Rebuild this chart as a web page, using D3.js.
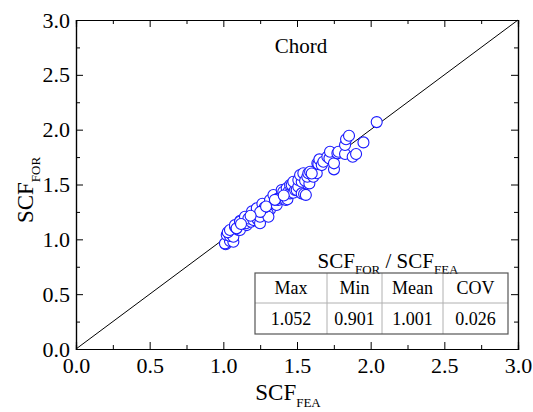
<!DOCTYPE html>
<html>
<head>
<meta charset="utf-8">
<script src="https://cdn.jsdelivr.net/npm/d3@7"></script>
<style>
  body { margin: 0; background: #fff; }
  svg { display: block; }
  svg text { font-family: "Liberation Serif", "Times New Roman", serif; }
</style>
</head>
<body>
<svg id="chart" width="533" height="412"></svg>
<script>
// SCF from the FEA model (x) against SCF from the formula (y), chord side
const scfFea = [
  1.016, 1.011, 1.045, 1.068, 1.023, 1.045, 1.045, 1.068, 1.030, 1.045,
  1.079, 1.102, 1.079, 1.113, 1.090, 1.115, 1.113, 1.147, 1.159, 1.147,
  1.154, 1.188, 1.170, 1.204, 1.215, 1.233, 1.249, 1.204, 1.195, 1.227,
  1.249, 1.261, 1.265, 1.295, 1.317, 1.301, 1.306, 1.280, 1.340, 1.317,
  1.362, 1.340, 1.373, 1.373, 1.396, 1.424, 1.435, 1.396, 1.407, 1.430,
  1.441, 1.453, 1.453, 1.464, 1.475, 1.487, 1.475, 1.498, 1.509, 1.532,
  1.548, 1.509, 1.532, 1.521, 1.543, 1.555, 1.584, 1.570, 1.577, 1.589,
  1.611, 1.634, 1.638, 1.645, 1.652, 1.668, 1.679, 1.706, 1.720, 1.724,
  1.751, 1.751, 1.774, 1.781, 1.826, 1.826, 1.833, 1.853, 1.878, 1.901,
  1.951, 2.041, 1.250, 1.185, 1.120, 1.350, 1.600, 1.560, 1.290, 1.410
];
const scfFor = [
  0.955, 0.963, 0.985, 0.978, 1.039, 1.030, 1.055, 1.024, 1.065, 1.085,
  1.115, 1.085, 1.130, 1.085, 1.100, 1.170, 1.160, 1.160, 1.130, 1.206,
  1.146, 1.160, 1.190, 1.176, 1.237, 1.182, 1.146, 1.237, 1.255, 1.283,
  1.206, 1.252, 1.325, 1.297, 1.273, 1.237, 1.206, 1.290, 1.328, 1.358,
  1.313, 1.404, 1.358, 1.374, 1.404, 1.358, 1.365, 1.449, 1.434, 1.465,
  1.434, 1.419, 1.495, 1.495, 1.425, 1.449, 1.525, 1.449, 1.480, 1.419,
  1.413, 1.541, 1.525, 1.586, 1.602, 1.534, 1.510, 1.571, 1.602, 1.616,
  1.571, 1.602, 1.693, 1.686, 1.729, 1.677, 1.707, 1.753, 1.738, 1.799,
  1.638, 1.693, 1.784, 1.799, 1.778, 1.860, 1.912, 1.945, 1.753, 1.778,
  1.884, 2.069, 1.250, 1.215, 1.140, 1.360, 1.600, 1.405, 1.300, 1.400
];

const majorTicks = [0, 0.5, 1.0, 1.5, 2.0, 2.5, 3.0];
const minorTicks = [0.25, 0.75, 1.25, 1.75, 2.25, 2.75];
const statNames = ["Max", "Min", "Mean", "COV"];
const statValues = ["1.052", "0.901", "1.001", "0.026"];
const panelTitle = "Chord";

const serif = "Liberation Serif";
const svg = d3.select("#chart").attr("font-family", serif);
const plotLeft = 76, plotRight = 518, plotTop = 20, plotBottom = 349;

const x = d3.scaleLinear().domain([0, 3]).range([plotLeft, plotRight]);
const y = d3.scaleLinear().domain([0, 3]).range([plotBottom, plotTop]);

const fmt = d3.format(".1f");

// 1:1 reference line
svg.append("line")
  .attr("x1", x(0)).attr("y1", y(0))
  .attr("x2", x(3)).attr("y2", y(3))
  .attr("stroke", "#000").attr("stroke-width", 1);

// Data points
svg.append("g").selectAll("circle")
  .data(scfFea.map((v, i) => [v, scfFor[i]]))
  .join("circle")
  .attr("cx", d => x(d[0]))
  .attr("cy", d => y(d[1]))
  .attr("r", 5.5)
  .attr("fill", "#fff")
  .attr("stroke", "#1a1aff")
  .attr("stroke-width", 1.1);

// Axes: ticks point inward on all four sides
function styleAxis(g) {
  g.attr("font-family", serif).attr("font-size", 22);
  g.selectAll("path.domain").attr("stroke", "#000").attr("stroke-width", 1.2);
  g.selectAll(".tick line").attr("stroke", "#000").attr("stroke-width", 1);
  g.selectAll(".tick text").attr("fill", "#000");
}

svg.append("g").attr("transform", `translate(0,${plotBottom})`)
  .call(d3.axisBottom(x).tickValues(majorTicks).tickFormat(fmt).tickSize(-7).tickPadding(8))
  .call(styleAxis);
svg.append("g").attr("transform", `translate(0,${plotBottom})`)
  .call(d3.axisBottom(x).tickValues(minorTicks).tickFormat("").tickSize(-4))
  .call(styleAxis);
svg.append("g").attr("transform", `translate(${plotLeft},0)`)
  .call(d3.axisLeft(y).tickValues(majorTicks).tickFormat(fmt).tickSize(-7).tickPadding(6))
  .call(styleAxis);
svg.append("g").attr("transform", `translate(${plotLeft},0)`)
  .call(d3.axisLeft(y).tickValues(minorTicks).tickFormat("").tickSize(-4))
  .call(styleAxis);
svg.append("g").attr("transform", `translate(0,${plotTop})`)
  .call(d3.axisTop(x).tickValues(majorTicks).tickFormat("").tickSize(-7))
  .call(styleAxis);
svg.append("g").attr("transform", `translate(0,${plotTop})`)
  .call(d3.axisTop(x).tickValues(minorTicks).tickFormat("").tickSize(-4))
  .call(styleAxis);
svg.append("g").attr("transform", `translate(${plotRight},0)`)
  .call(d3.axisRight(y).tickValues(majorTicks).tickFormat("").tickSize(-7))
  .call(styleAxis);
svg.append("g").attr("transform", `translate(${plotRight},0)`)
  .call(d3.axisRight(y).tickValues(minorTicks).tickFormat("").tickSize(-4))
  .call(styleAxis);

// Label with a subscript
function subLabel(sel, main, sub, size, subSize) {
  sel.append("tspan").text(main).attr("font-size", size);
  sel.append("tspan").text(sub).attr("dy", size * 0.3).attr("font-size", subSize);
}

subLabel(svg.append("text").attr("x", 288).attr("y", 400).attr("text-anchor", "middle"),
  "SCF", "FEA", 23, 13);
subLabel(svg.append("text").attr("transform", "translate(33,190) rotate(-90)").attr("text-anchor", "middle"),
  "SCF", "FOR", 23, 13);

svg.append("text").attr("x", 301).attr("y", 53).attr("text-anchor", "middle")
  .attr("font-size", 21).text(panelTitle);

// Statistics table of SCF_FOR / SCF_FEA
const title = svg.append("text").attr("x", 388).attr("y", 268).attr("text-anchor", "middle")
  .attr("font-size", 21);
title.append("tspan").text("SCF");
title.append("tspan").text("FOR").attr("dy", 6).attr("font-size", 13);
title.append("tspan").text(" / SCF").attr("dy", -6);
title.append("tspan").text("FEA").attr("dy", 6).attr("font-size", 13);

const colEdges = [255, 327, 382, 443, 508];
const rowEdges = [273, 303, 334];
const tbl = svg.append("g");
// inner grid
colEdges.slice(1, -1).forEach(cx => tbl.append("line")
  .attr("x1", cx).attr("x2", cx).attr("y1", rowEdges[0]).attr("y2", rowEdges[2])
  .attr("stroke", "#b0b0b0").attr("stroke-width", 1));
tbl.append("line").attr("x1", colEdges[0]).attr("x2", colEdges[4])
  .attr("y1", rowEdges[1]).attr("y2", rowEdges[1])
  .attr("stroke", "#b0b0b0").attr("stroke-width", 1);
tbl.append("rect").attr("x", colEdges[0]).attr("y", rowEdges[0])
  .attr("width", colEdges[4] - colEdges[0]).attr("height", rowEdges[2] - rowEdges[0])
  .attr("fill", "none").attr("stroke", "#555").attr("stroke-width", 1.2);

[statNames, statValues].forEach((row, r) => {
  row.forEach((t, c) => tbl.append("text")
    .attr("x", (colEdges[c] + colEdges[c + 1]) / 2)
    .attr("y", (rowEdges[r] + rowEdges[r + 1]) / 2)
    .attr("dy", "0.35em").attr("text-anchor", "middle")
    .attr("font-size", 18).text(t));
});
</script>
</body>
</html>
